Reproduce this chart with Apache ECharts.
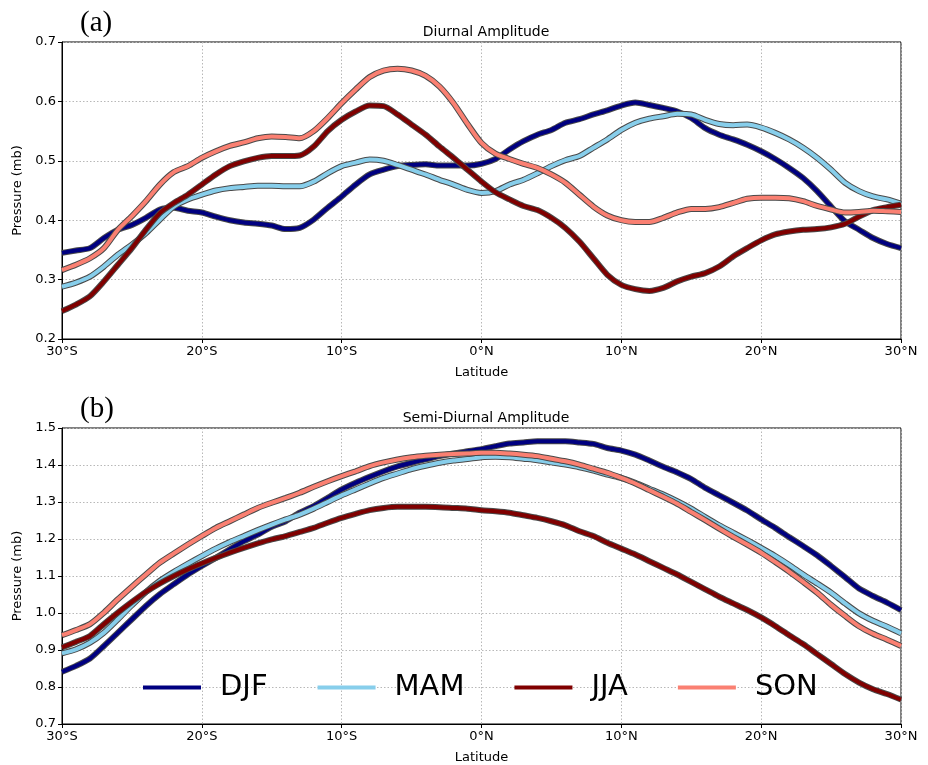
<!DOCTYPE html>
<html>
<head>
<meta charset="utf-8">
<script src="https://cdn.jsdelivr.net/npm/echarts@6/dist/echarts.min.js"></script>
<style>
html, body { margin: 0; padding: 0; background: #fff; }
#main { width: 928px; height: 765px; }
</style>
</head>
<body>
<div id="main"></div>
<script>
// latitude, -30 .. 30 every degree
var lat = [];
for (var i = -30; i <= 30; i++) lat.push(i);

var seasons = ['DJF', 'MAM', 'JJA', 'SON'];
var colors = ['#000080', '#87ceeb', '#800000', '#fa8072'];

// (a) diurnal amplitude
var djfA = [0.345,0.349,0.353,0.370,0.384,0.392,0.404,0.418,0.421,0.416,0.413,0.406,0.400,0.396,0.394,0.391,0.385,0.387,0.401,0.421,0.440,0.460,0.477,0.485,0.491,0.493,0.494,0.492,0.492,0.492,
            0.495,0.503,0.519,0.533,0.544,0.552,0.564,0.570,0.578,0.585,0.593,0.598,0.594,0.589,0.583,0.572,0.555,0.544,0.536,0.527,0.516,0.503,0.488,0.471,0.449,0.423,0.398,0.384,0.370,0.360,0.353];
var mamA = [0.288,0.295,0.305,0.322,0.342,0.359,0.378,0.401,0.423,0.435,0.443,0.450,0.454,0.456,0.458,0.458,0.457,0.457,0.465,0.479,0.491,0.497,0.502,0.500,0.493,0.485,0.477,0.468,0.460,0.451,
            0.446,0.449,0.460,0.468,0.479,0.491,0.501,0.508,0.522,0.536,0.552,0.564,0.571,0.575,0.579,0.578,0.569,0.562,0.560,0.561,0.556,0.547,0.536,0.522,0.505,0.485,0.463,0.449,0.440,0.435,0.428];
var jjaA = [0.247,0.258,0.272,0.297,0.325,0.353,0.384,0.412,0.429,0.443,0.460,0.477,0.491,0.499,0.505,0.508,0.508,0.509,0.524,0.550,0.569,0.583,0.593,0.592,0.578,0.561,0.544,0.524,0.505,0.485,
            0.465,0.447,0.435,0.424,0.417,0.404,0.387,0.364,0.336,0.308,0.291,0.284,0.281,0.286,0.297,0.305,0.311,0.322,0.339,0.353,0.366,0.376,0.381,0.384,0.385,0.388,0.394,0.406,0.417,0.422,0.426];
var sonA = [0.316,0.325,0.336,0.353,0.384,0.407,0.432,0.460,0.481,0.491,0.505,0.516,0.525,0.531,0.538,0.541,0.540,0.538,0.550,0.572,0.597,0.620,0.641,0.652,0.655,0.652,0.643,0.625,0.597,0.562,
            0.530,0.512,0.503,0.495,0.488,0.477,0.463,0.443,0.423,0.408,0.400,0.397,0.397,0.404,0.413,0.419,0.419,0.422,0.429,0.436,0.438,0.438,0.437,0.432,0.424,0.418,0.413,0.414,0.416,0.415,0.414];

// (b) semi-diurnal amplitude
var djfB = [0.841,0.857,0.877,0.911,0.947,0.983,1.019,1.051,1.078,1.104,1.127,1.149,1.172,1.194,1.212,1.233,1.248,1.271,1.289,1.311,1.334,1.352,1.368,1.383,1.396,1.406,1.415,1.424,1.431,1.437,
            1.443,1.451,1.458,1.461,1.464,1.464,1.464,1.461,1.457,1.446,1.439,1.428,1.412,1.395,1.380,1.362,1.338,1.318,1.298,1.277,1.253,1.230,1.205,1.181,1.156,1.127,1.097,1.066,1.046,1.028,1.008];
var mamB = [0.891,0.902,0.920,0.947,0.983,1.021,1.057,1.087,1.111,1.133,1.154,1.174,1.192,1.208,1.224,1.239,1.253,1.266,1.282,1.300,1.318,1.334,1.350,1.365,1.377,1.389,1.398,1.406,1.412,1.416,
            1.421,1.422,1.421,1.417,1.413,1.407,1.401,1.394,1.385,1.374,1.365,1.352,1.336,1.320,1.302,1.282,1.259,1.237,1.217,1.197,1.176,1.154,1.130,1.104,1.080,1.055,1.026,0.999,0.979,0.963,0.945];
var jjaB = [0.907,0.922,0.938,0.970,1.001,1.030,1.057,1.080,1.100,1.118,1.134,1.149,1.163,1.176,1.188,1.199,1.208,1.219,1.230,1.244,1.257,1.268,1.278,1.284,1.287,1.287,1.287,1.286,1.284,1.282,
            1.278,1.275,1.271,1.264,1.257,1.248,1.237,1.221,1.208,1.190,1.174,1.158,1.140,1.122,1.104,1.084,1.064,1.044,1.026,1.008,0.988,0.965,0.940,0.916,0.889,0.862,0.835,0.812,0.794,0.781,0.766];
var sonB = [0.940,0.954,0.970,1.001,1.037,1.071,1.104,1.136,1.161,1.185,1.208,1.230,1.248,1.266,1.284,1.298,1.311,1.325,1.341,1.356,1.370,1.383,1.397,1.407,1.415,1.421,1.425,1.428,1.430,1.431,
            1.433,1.433,1.431,1.428,1.424,1.417,1.410,1.401,1.390,1.379,1.365,1.350,1.332,1.314,1.295,1.273,1.251,1.228,1.206,1.185,1.163,1.138,1.112,1.084,1.055,1.022,0.992,0.964,0.944,0.928,0.911];

var panelA = [djfA, mamA, jjaA, sonA];
var panelB = [djfB, mamB, jjaB, sonB];

var FONT = 'DejaVu Sans';

function pairs(vals) {
    return lat.map(function (x, i) { return [x, vals[i]]; });
}

function latLabel(v) {
    return v < 0 ? (-v) + '°S' : v + '°N';
}

// each season: dark edge underneath, coloured line on top
var series = [];
function addPanel(vals, idx) {
    for (var k = 0; k < 4; k++) {
        series.push({
            name: seasons[k] + '_edge',
            type: 'line',
            xAxisIndex: idx, yAxisIndex: idx,
            data: pairs(vals[k]),
            smooth: 0.25,
            showSymbol: false,
            silent: true,
            lineStyle: { color: '#4a4a4a', width: 6 }
        });
        series.push({
            name: seasons[k],
            type: 'line',
            xAxisIndex: idx, yAxisIndex: idx,
            data: pairs(vals[k]),
            smooth: 0.25,
            showSymbol: false,
            color: colors[k],
            lineStyle: { color: colors[k], width: 4 }
        });
    }
}
addPanel(panelA, 0);
addPanel(panelB, 1);

function xAxis(idx) {
    return {
        gridIndex: idx,
        type: 'value',
        min: -30, max: 30, interval: 10,
        name: 'Latitude',
        nameLocation: 'middle',
        nameGap: 27,
        nameTextStyle: { fontFamily: FONT, fontSize: 13, color: '#000' },
        axisLine: { show: true, onZero: false, lineStyle: { color: '#000', width: 1 } },
        axisTick: { show: true, length: 4, lineStyle: { color: '#000' } },
        axisLabel: { formatter: latLabel, fontFamily: FONT, fontSize: 13, color: '#000', margin: 6 },
        splitLine: { show: true, lineStyle: { color: '#b8b8b8', type: [1.5, 2], width: 1 } }
    };
}
function yAxis(idx, mn, mx) {
    return {
        gridIndex: idx,
        type: 'value',
        min: mn, max: mx, interval: 0.1,
        name: 'Pressure (mb)',
        nameLocation: 'middle',
        nameRotate: 90,
        nameGap: 36,
        nameTextStyle: { fontFamily: FONT, fontSize: 13, color: '#000' },
        axisLine: { show: true, onZero: false, lineStyle: { color: '#000', width: 1 } },
        axisTick: { show: true, length: 4, lineStyle: { color: '#000' } },
        axisLabel: { formatter: function (v) { return v.toFixed(1); }, fontFamily: FONT, fontSize: 13, color: '#000', margin: 6 },
        splitLine: { show: true, lineStyle: { color: '#b8b8b8', type: [1.5, 2], width: 1 } }
    };
}

var chartDom = document.getElementById('main');
var myChart = echarts.init(chartDom, null, { renderer: 'canvas' });
var option;
option = {
    backgroundColor: '#fff',
    animation: false,
    title: [
        { text: '(a)', left: 75, top: 4, textStyle: { fontFamily: 'Liberation Serif', fontSize: 29, fontWeight: 'normal', color: '#000' } },
        { text: 'Diurnal Amplitude', left: 481, top: 20, textAlign: 'center', textStyle: { fontFamily: FONT, fontSize: 14, fontWeight: 'normal', color: '#000' } },
        { text: '(b)', left: 75, top: 390, textStyle: { fontFamily: 'Liberation Serif', fontSize: 29, fontWeight: 'normal', color: '#000' } },
        { text: 'Semi-Diurnal Amplitude', left: 481, top: 406, textAlign: 'center', textStyle: { fontFamily: FONT, fontSize: 14, fontWeight: 'normal', color: '#000' } }
    ],
    legend: {
        data: seasons,
        left: 138,
        top: 668,
        orient: 'horizontal',
        icon: 'rect',
        itemWidth: 58,
        itemHeight: 4,
        itemGap: 50,
        selectedMode: false,
        textStyle: { fontFamily: FONT, fontSize: 29, color: '#000', padding: [0, 0, 0, 14] }
    },
    grid: [
        { left: 62, top: 42, width: 839, height: 297, show: true, borderColor: '#000', borderWidth: 1 },
        { left: 62, top: 428, width: 839, height: 297, show: true, borderColor: '#000', borderWidth: 1 }
    ],
    xAxis: [xAxis(0), xAxis(1)],
    yAxis: [yAxis(0, 0.2, 0.7), yAxis(1, 0.7, 1.5)],
    series: series
};
option && myChart.setOption(option);
</script>
</body>
</html>
